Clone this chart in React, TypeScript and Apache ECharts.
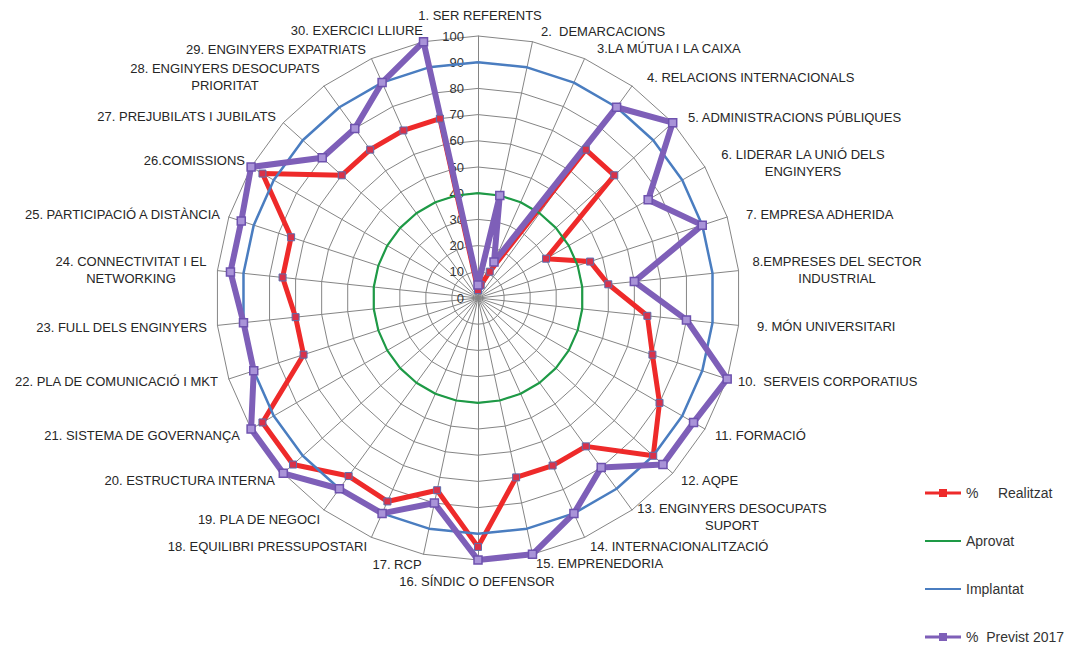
import React, { useEffect, useRef } from 'react';
import * as echarts from 'echarts';

const CATEGORIES = [
  '1. SER REFERENTS',
  '2.  DEMARCACIONS',
  '3.LA MÚTUA I LA CAIXA',
  '4. RELACIONS INTERNACIONALS',
  '5. ADMINISTRACIONS PÚBLIQUES',
  '6. LIDERAR LA UNIÓ DELS\nENGINYERS',
  '7. EMPRESA ADHERIDA',
  '8.EMPRESES DEL SECTOR\nINDUSTRIAL',
  '9. MÓN UNIVERSITARI',
  '10.  SERVEIS CORPORATIUS',
  '11. FORMACIÓ',
  '12. AQPE',
  '13. ENGINYERS DESOCUPATS\nSUPORT',
  '14. INTERNACIONALITZACIÓ',
  '15. EMPRENEDORIA',
  '16. SÍNDIC O DEFENSOR',
  '17. RCP',
  '18. EQUILIBRI PRESSUPOSTARI',
  '19. PLA DE NEGOCI',
  '20. ESTRUCTURA INTERNA',
  '21. SISTEMA DE GOVERNANÇA',
  '22. PLA DE COMUNICACIÓ I MKT',
  '23. FULL DELS ENGINYERS',
  '24. CONNECTIVITAT I EL\nNETWORKING',
  '25. PARTICIPACIÓ A DISTÀNCIA',
  '26.COMISSIONS',
  '27. PREJUBILATS I JUBILATS',
  '28. ENGINYERS DESOCUPATS\nPRIORITAT',
  '29. ENGINYERS EXPATRIATS',
  '30. EXERCICI LLIURE',
];

const REALITZAT = [3, 5, 11, 70, 70, 30, 45, 50, 65, 70, 80, 90, 70, 70, 70, 95, 75, 85, 84, 95, 95, 70, 70, 75, 75, 95, 70, 70, 70, 70];
const APROVAT = [40, 40, 40, 40, 40, 40, 40, 40, 40, 40, 40, 40, 40, 40, 40, 40, 40, 40, 40, 40, 40, 40, 40, 40, 40, 40, 40, 40, 40, 40];
const IMPLANTAT = [90, 90, 90, 90, 90, 90, 90, 90, 90, 90, 90, 90, 90, 90, 90, 90, 90, 90, 90, 90, 90, 90, 90, 90, 90, 90, 90, 90, 90, 90];
const PREVIST = [5, 40, 15, 90, 100, 75, 90, 60, 80, 100, 95, 95, 80, 90, 100, 100, 80, 90, 90, 100, 100, 90, 90, 95, 95, 100, 80, 80, 90, 100];

const SERIES_NAMES = ['%     Realitzat', 'Aprovat', 'Implantat', '%  Previst 2017'];

// layout of category labels: [x, y, align]
const LABEL_POS: [number, number, string][] = [
  [480, 15, 'center'],
  [541, 31, 'left'],
  [597, 48, 'left'],
  [647, 77, 'left'],
  [688, 117, 'left'],
  [803, 163, 'center'],
  [746, 214, 'left'],
  [837, 270, 'center'],
  [757, 326, 'left'],
  [738, 381, 'left'],
  [715, 435, 'left'],
  [681, 480, 'left'],
  [732, 517, 'center'],
  [590, 546, 'left'],
  [536, 563, 'left'],
  [477, 581, 'center'],
  [397, 564, 'center'],
  [367, 546, 'right'],
  [320, 519, 'right'],
  [275, 480, 'right'],
  [240, 435, 'right'],
  [218, 381, 'right'],
  [207, 327, 'right'],
  [131, 270, 'center'],
  [220, 214, 'right'],
  [245, 160, 'right'],
  [276, 116, 'right'],
  [225, 77, 'center'],
  [366, 49, 'right'],
  [423, 30, 'right'],
];

const FONT = '"Liberation Sans", Arial, sans-serif';

// radar indicators run counter-clockwise; reorder so categories appear clockwise
const ORDER = CATEGORIES.map((_, i) => (i === 0 ? 0 : CATEGORIES.length - i));
const reorder = (arr: number[]) => ORDER.map((i) => arr[i]);

export default function App() {
  const ref = useRef<HTMLDivElement>(null);
  useEffect(() => {
    if (!ref.current) return;
    const chart = echarts.init(ref.current, null, { renderer: 'svg' });
    const RED = '#EE2A2A';
    const PURPLE = '#7E5FB8';
    const GREEN = '#1E9A46';
    const BLUE = '#4A7DC0';
    chart.setOption({
      animation: false,
      backgroundColor: '#ffffff',
      textStyle: { fontFamily: FONT },
      radar: {
        center: [478, 298],
        radius: 262,
        startAngle: 90,
        shape: 'polygon',
        splitNumber: 10,
        indicator: ORDER.map((i, k) => {
          const o: any = { name: CATEGORIES[i], min: 0, max: 100 };
          if (k === 0) o.axisLabel = { show: true };
          return o;
        }),
        axisName: { show: false },
        axisLabel: { show: false, color: '#333333', fontSize: 13, margin: 14, fontFamily: FONT },
        axisTick: { show: false },
        axisLine: { lineStyle: { color: '#858585', width: 1 } },
        splitLine: { lineStyle: { color: '#858585', width: 1 } },
        splitArea: { show: false },
      },
      legend: {
        orient: 'vertical',
        left: 920,
        top: 481,
        itemWidth: 36,
        itemHeight: 10,
        itemGap: 34,
        selectedMode: false,
        textStyle: { fontSize: 14, color: '#333', fontFamily: FONT },
        itemStyle: { borderWidth: 0 },
        data: [
          { name: SERIES_NAMES[0], icon: 'path://M0,3.5L36,3.5L36,6.5L0,6.5Z M14,1L22,1L22,9L14,9Z', itemStyle: { color: RED, borderWidth: 0 } },
          { name: SERIES_NAMES[1], icon: 'path://M0,1L0,1M0,4L36,4L36,6L0,6ZM36,9L36,9', itemStyle: { color: GREEN, borderWidth: 0 } },
          { name: SERIES_NAMES[2], icon: 'path://M0,1L0,1M0,4L36,4L36,6L0,6ZM36,9L36,9', itemStyle: { color: BLUE, borderWidth: 0 } },
          { name: SERIES_NAMES[3], icon: 'path://M0,3.5L36,3.5L36,6.5L0,6.5Z M14,1L22,1L22,9L14,9Z', itemStyle: { color: PURPLE, borderWidth: 0 } },
        ],
      },
      series: [
        {
          type: 'radar',
          data: [
            {
              name: SERIES_NAMES[0],
              value: reorder(REALITZAT),
              symbol: 'rect',
              symbolSize: 7,
              lineStyle: { color: RED, width: 5 },
              itemStyle: { color: '#D8324A', borderColor: '#5A6FB0', borderWidth: 1 },
            },
          ],
        },
        {
          type: 'radar',
          data: [
            {
              name: SERIES_NAMES[1],
              value: reorder(APROVAT),
              symbol: 'none',
              lineStyle: { color: GREEN, width: 2.2 },
              itemStyle: { color: GREEN },
            },
          ],
        },
        {
          type: 'radar',
          data: [
            {
              name: SERIES_NAMES[2],
              value: reorder(IMPLANTAT),
              symbol: 'none',
              lineStyle: { color: BLUE, width: 2.5 },
              itemStyle: { color: BLUE },
            },
          ],
        },
        {
          type: 'radar',
          data: [
            {
              name: SERIES_NAMES[3],
              value: reorder(PREVIST),
              symbol: 'rect',
              symbolSize: 8,
              lineStyle: { color: PURPLE, width: 6 },
              itemStyle: { color: '#A993D8', borderColor: '#6E52AE', borderWidth: 1.5 },
            },
          ],
        },
      ],
      graphic: CATEGORIES.map((t, i) => ({
        type: 'text',
        x: LABEL_POS[i][0],
        y: LABEL_POS[i][1],
        silent: true,
        style: {
          text: t,
          align: LABEL_POS[i][2],
          textAlign: LABEL_POS[i][2],
          verticalAlign: 'middle',
          textVerticalAlign: 'middle',
          font: '13px ' + FONT,
          fill: '#262626',
          lineHeight: 17,
        },
      })),
    });
    return () => chart.dispose();
  }, []);
  return (
    <div
      ref={ref}
      style={{ position: 'fixed', left: 0, top: 0, width: 1067, height: 652 }}
    />
  );
}
